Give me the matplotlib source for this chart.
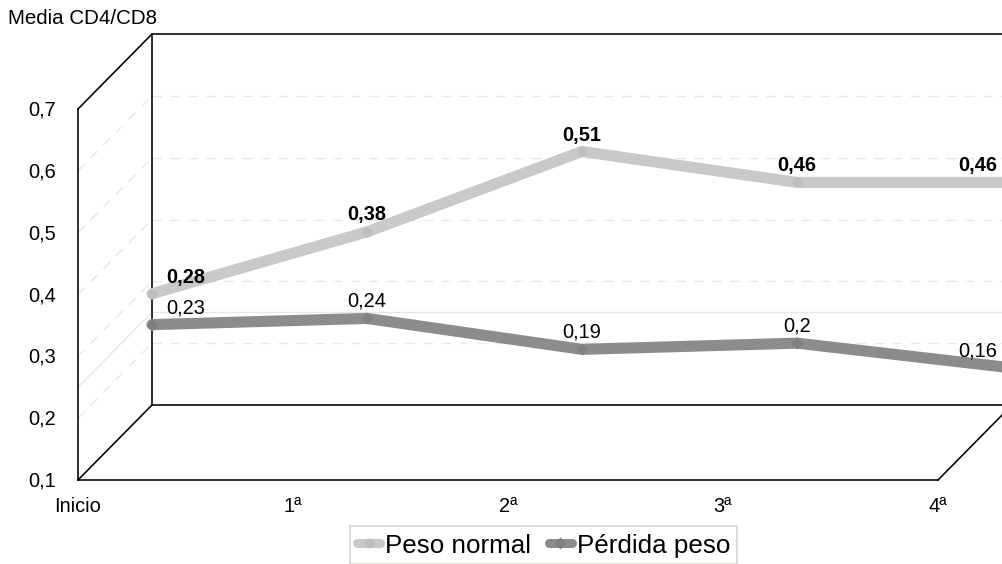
import matplotlib
matplotlib.use("Agg")
import matplotlib.pyplot as plt
from matplotlib.lines import Line2D

plt.rcParams['font.family'] = ['Liberation Sans', 'DejaVu Sans']

categories = ["Inicio", "1ª", "2ª", "3ª", "4ª"]
peso_normal = [0.28, 0.38, 0.51, 0.46, 0.46]
perdida_peso = [0.23, 0.24, 0.19, 0.20, 0.16]
labels_normal = ["0,28", "0,38", "0,51", "0,46", "0,46"]
labels_perdida = ["0,23", "0,24", "0,19", "0,2", "0,16"]
y_ticks = [0.1, 0.2, 0.3, 0.4, 0.5, 0.6, 0.7]
y_tick_labels = ["0,1", "0,2", "0,3", "0,4", "0,5", "0,6", "0,7"]
dashed_grid = [0.2, 0.3, 0.4, 0.5, 0.6]
solid_grid = [0.25]

W, H = 1002, 564
X0_PX, STEP_PX = 152.0, 215.0
Y01_PX, UNIT_PX = 405.0, 618.33
DEPTH_X_PX, DEPTH_Y_PX = 74.0, 75.0

fig = plt.figure(figsize=(W / 100, H / 100), dpi=100)
ax = fig.add_axes([0, 0, 1, 1])
ax.set_xlim(-X0_PX / STEP_PX, (W - X0_PX) / STEP_PX)
ax.set_ylim(0.1 - (H - Y01_PX) / UNIT_PX, 0.1 + Y01_PX / UNIT_PX)
ax.axis("off")

dx = DEPTH_X_PX / STEP_PX
dy = DEPTH_Y_PX / UNIT_PX
x_last = len(categories) - 1
y_min, y_max = y_ticks[0], y_ticks[-1]

edge = dict(color="black", lw=1.15, solid_capstyle="projecting", zorder=2)
grid = dict(color="#E8E8E8", lw=1.0, zorder=1)
dash = dict(dashes=(7, 6), **grid)

for v in dashed_grid:
    ax.plot([0, x_last], [v, v], **dash)
    ax.plot([-dx, 0], [v - dy, v], **dash)
for v in solid_grid:
    ax.plot([0, x_last], [v, v], **grid)
    ax.plot([-dx, 0], [v - dy, v], **grid)

# back wall, side wall, floor
ax.plot([0, 0], [y_min, y_max], **edge)
ax.plot([0, x_last], [y_max, y_max], **edge)
ax.plot([0, x_last], [y_min, y_min], **edge)
ax.plot([-dx, -dx], [y_min - dy, y_max - dy], **edge)
ax.plot([-dx, 0], [y_max - dy, y_max], **edge)
ax.plot([-dx, 0], [y_min - dy, y_min], **edge)
ax.plot([-dx, x_last - dx], [y_min - dy, y_min - dy], **edge)
ax.plot([x_last - dx, x_last], [y_min - dy, y_min], **edge)

xs = list(range(len(categories)))
ax.plot(xs, peso_normal, color="#C9C9C9", lw=8, solid_capstyle="round",
        solid_joinstyle="miter", marker="o", ms=7, mfc="#BEBEBE", mec="none", zorder=3)
ax.plot(xs, perdida_peso, color="#8C8C8C", lw=8, solid_capstyle="round",
        solid_joinstyle="miter", marker="D", ms=6.5, mfc="#808080", mec="none", zorder=3)

label_dx = [34, 0, 0, 0, -34]
label_dy = [16.5, 17.5, 16, 16.5, 16.5]
for i in xs:
    ax.annotate(labels_normal[i], (i, peso_normal[i]), xytext=(label_dx[i], label_dy[i]),
                textcoords="offset pixels", ha="center", va="center", annotation_clip=False,
                fontsize=14.4, fontweight="bold", color="black", zorder=4)
    ax.annotate(labels_perdida[i], (i, perdida_peso[i]), xytext=(label_dx[i], 17),
                textcoords="offset pixels", ha="center", va="center", annotation_clip=False,
                fontsize=14.4, color="black", zorder=4)

for v, t in zip(y_ticks, y_tick_labels):
    ax.annotate(t, (-dx, v - dy), xytext=(-22, -1), textcoords="offset pixels",
                ha="right", va="center", fontsize=14.4, color="black")
for i, c in enumerate(categories):
    ax.annotate(c, (i - dx, y_min - dy), xytext=(0, -26), textcoords="offset pixels",
                ha="center", va="center", fontsize=14.4, color="black")

fig.text(8 / W, 1 - 18 / H, "Media CD4/CD8", ha="left", va="center", fontsize=14.8, color="black")

handles = [
    Line2D([], [], color="#C9C9C9", lw=6.5, solid_capstyle="round", marker="o", ms=7,
           mfc="#BEBEBE", mec="none"),
    Line2D([], [], color="#8C8C8C", lw=6.5, solid_capstyle="round", marker="D", ms=6.5,
           mfc="#808080", mec="none"),
]
leg = fig.legend(handles, ["Peso normal", "Pérdida peso"], ncol=2, loc="center",
                 bbox_to_anchor=(543.5 / W, 1 - 545 / H), fontsize=18.7, frameon=True,
                 fancybox=False, edgecolor="#D6D6C8", framealpha=1, handlelength=0.9,
                 handleheight=1.05, handletextpad=0.18, columnspacing=0.68,
                 borderpad=0.25, borderaxespad=0)
leg.get_frame().set_linewidth(1.2)

fig.savefig("out.png", dpi=100)
